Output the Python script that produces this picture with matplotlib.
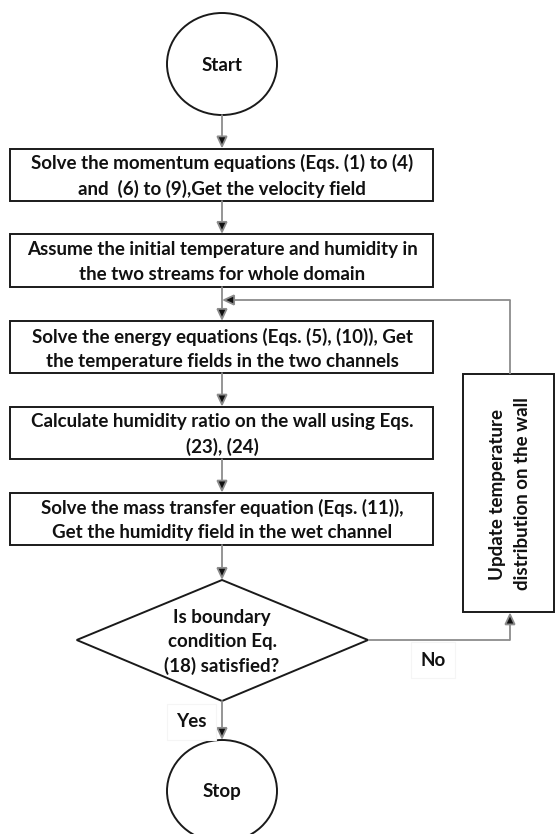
import matplotlib
matplotlib.use("Agg")
import matplotlib.pyplot as plt
from matplotlib.patches import Rectangle, Ellipse, Polygon, FancyArrowPatch

# ---- content ----
terminal_labels = ["Start", "Stop"]
process_labels = [
    "Solve the momentum equations (Eqs. (1) to (4)\nand  (6) to (9),Get the velocity field",
    "Assume the initial temperature and humidity in\nthe two streams for whole domain",
    "Solve the energy equations (Eqs. (5), (10)), Get\nthe temperature fields in the two channels",
    "Calculate humidity ratio on the wall using Eqs.\n(23), (24)",
    "Solve the mass transfer equation (Eqs. (11)),\nGet the humidity field in the wet channel",
]
decision_label = "Is boundary\ncondition Eq.\n(18) satisfied?"
update_label = "Update temperature\ndistribution on the wall"
branch_labels = ["Yes", "No"]

# ---- layout (pixels) ----
W, H = 555, 834
fig = plt.figure(figsize=(W / 100, H / 100), dpi=100)
ax = fig.add_axes([0, 0, 1, 1])
ax.set_xlim(0, W)
ax.set_ylim(H, 0)
ax.axis("off")

FONT = ["Lato", "DejaVu Sans"]
FS = 13.5
WEIGHT = "bold"
LS = 1.5
cx = 222
box_x0, box_x1 = 10, 432.7
box_tb = [(148.5, 201), (234, 287), (321, 373), (406.7, 459.3), (492.7, 545)]
lw_box = 1.4
ec = "#1a1a1a"
gray = "#8c8c8c"

def arrow(p0, p1):
    a = FancyArrowPatch(p0, p1, arrowstyle="-|>,head_length=0.6,head_width=0.28",
                        mutation_scale=12, lw=1.3, shrinkA=0, shrinkB=0,
                        joinstyle="miter")
    a.set_edgecolor(gray)
    a.set_facecolor("#111111")
    ax.add_patch(a)
    return a

def line(xs, ys):
    ax.plot(xs, ys, color=gray, lw=1.3, solid_capstyle="butt")

def txt(x, y, s, **kw):
    ax.text(x, y, s, ha="center", va="center", fontsize=FS, family=FONT,
            fontweight=WEIGHT, linespacing=LS, color="#111111", **kw)

# terminals
ew, eh = 110, 102
for lab, cy in zip(terminal_labels, [64, 791]):
    ax.add_patch(Ellipse((cx, cy), ew, eh, fill=False, ec=ec, lw=lw_box))
    txt(cx, cy + 1, lab)

# process boxes
for lab, (t, b) in zip(process_labels, box_tb):
    ax.add_patch(Rectangle((box_x0, t), box_x1 - box_x0, b - t, fill=False,
                           ec=ec, lw=lw_box))
    txt(cx, (t + b) / 2 + 1.5, lab)

# decision
d_top, d_mid, d_bot, d_left, d_right = 580, 640, 701, 76.7, 368
ax.add_patch(Polygon([(cx, d_top), (d_right, d_mid), (cx, d_bot), (d_left, d_mid)],
                     closed=True, fill=False, ec=ec, lw=lw_box))
txt(cx, 642, decision_label)

# update box
ux0, ux1, uy0, uy1 = 462.7, 554.3, 374, 612.3
ax.add_patch(Rectangle((ux0, uy0), ux1 - ux0, uy1 - uy0, fill=False, ec=ec,
                       lw=lw_box))
txt(510, 494, update_label, rotation=90)

# vertical arrows
arrow((cx, 64 + eh / 2), (cx, box_tb[0][0]))
for i in range(4):
    arrow((cx, box_tb[i][1]), (cx, box_tb[i + 1][0]))
arrow((cx, box_tb[4][1]), (cx, d_top))
arrow((cx, d_bot), (cx, 791 - eh / 2))

# loop back
loop_x, loop_y = 510, 300
line([d_right, loop_x], [d_mid, d_mid])
arrow((loop_x, d_mid), (loop_x, uy1))
line([loop_x, loop_x], [uy0, loop_y])
arrow((loop_x, loop_y), (cx, loop_y))

# branch labels
lab_box = dict(boxstyle="square,pad=0.5", fc="white", ec="#f5f5f5", lw=0.8)
txt(191.7, 721.7, branch_labels[0], bbox=lab_box)
txt(433, 660, branch_labels[1], bbox=lab_box)

fig.savefig("out.png", dpi=100, facecolor="white")
